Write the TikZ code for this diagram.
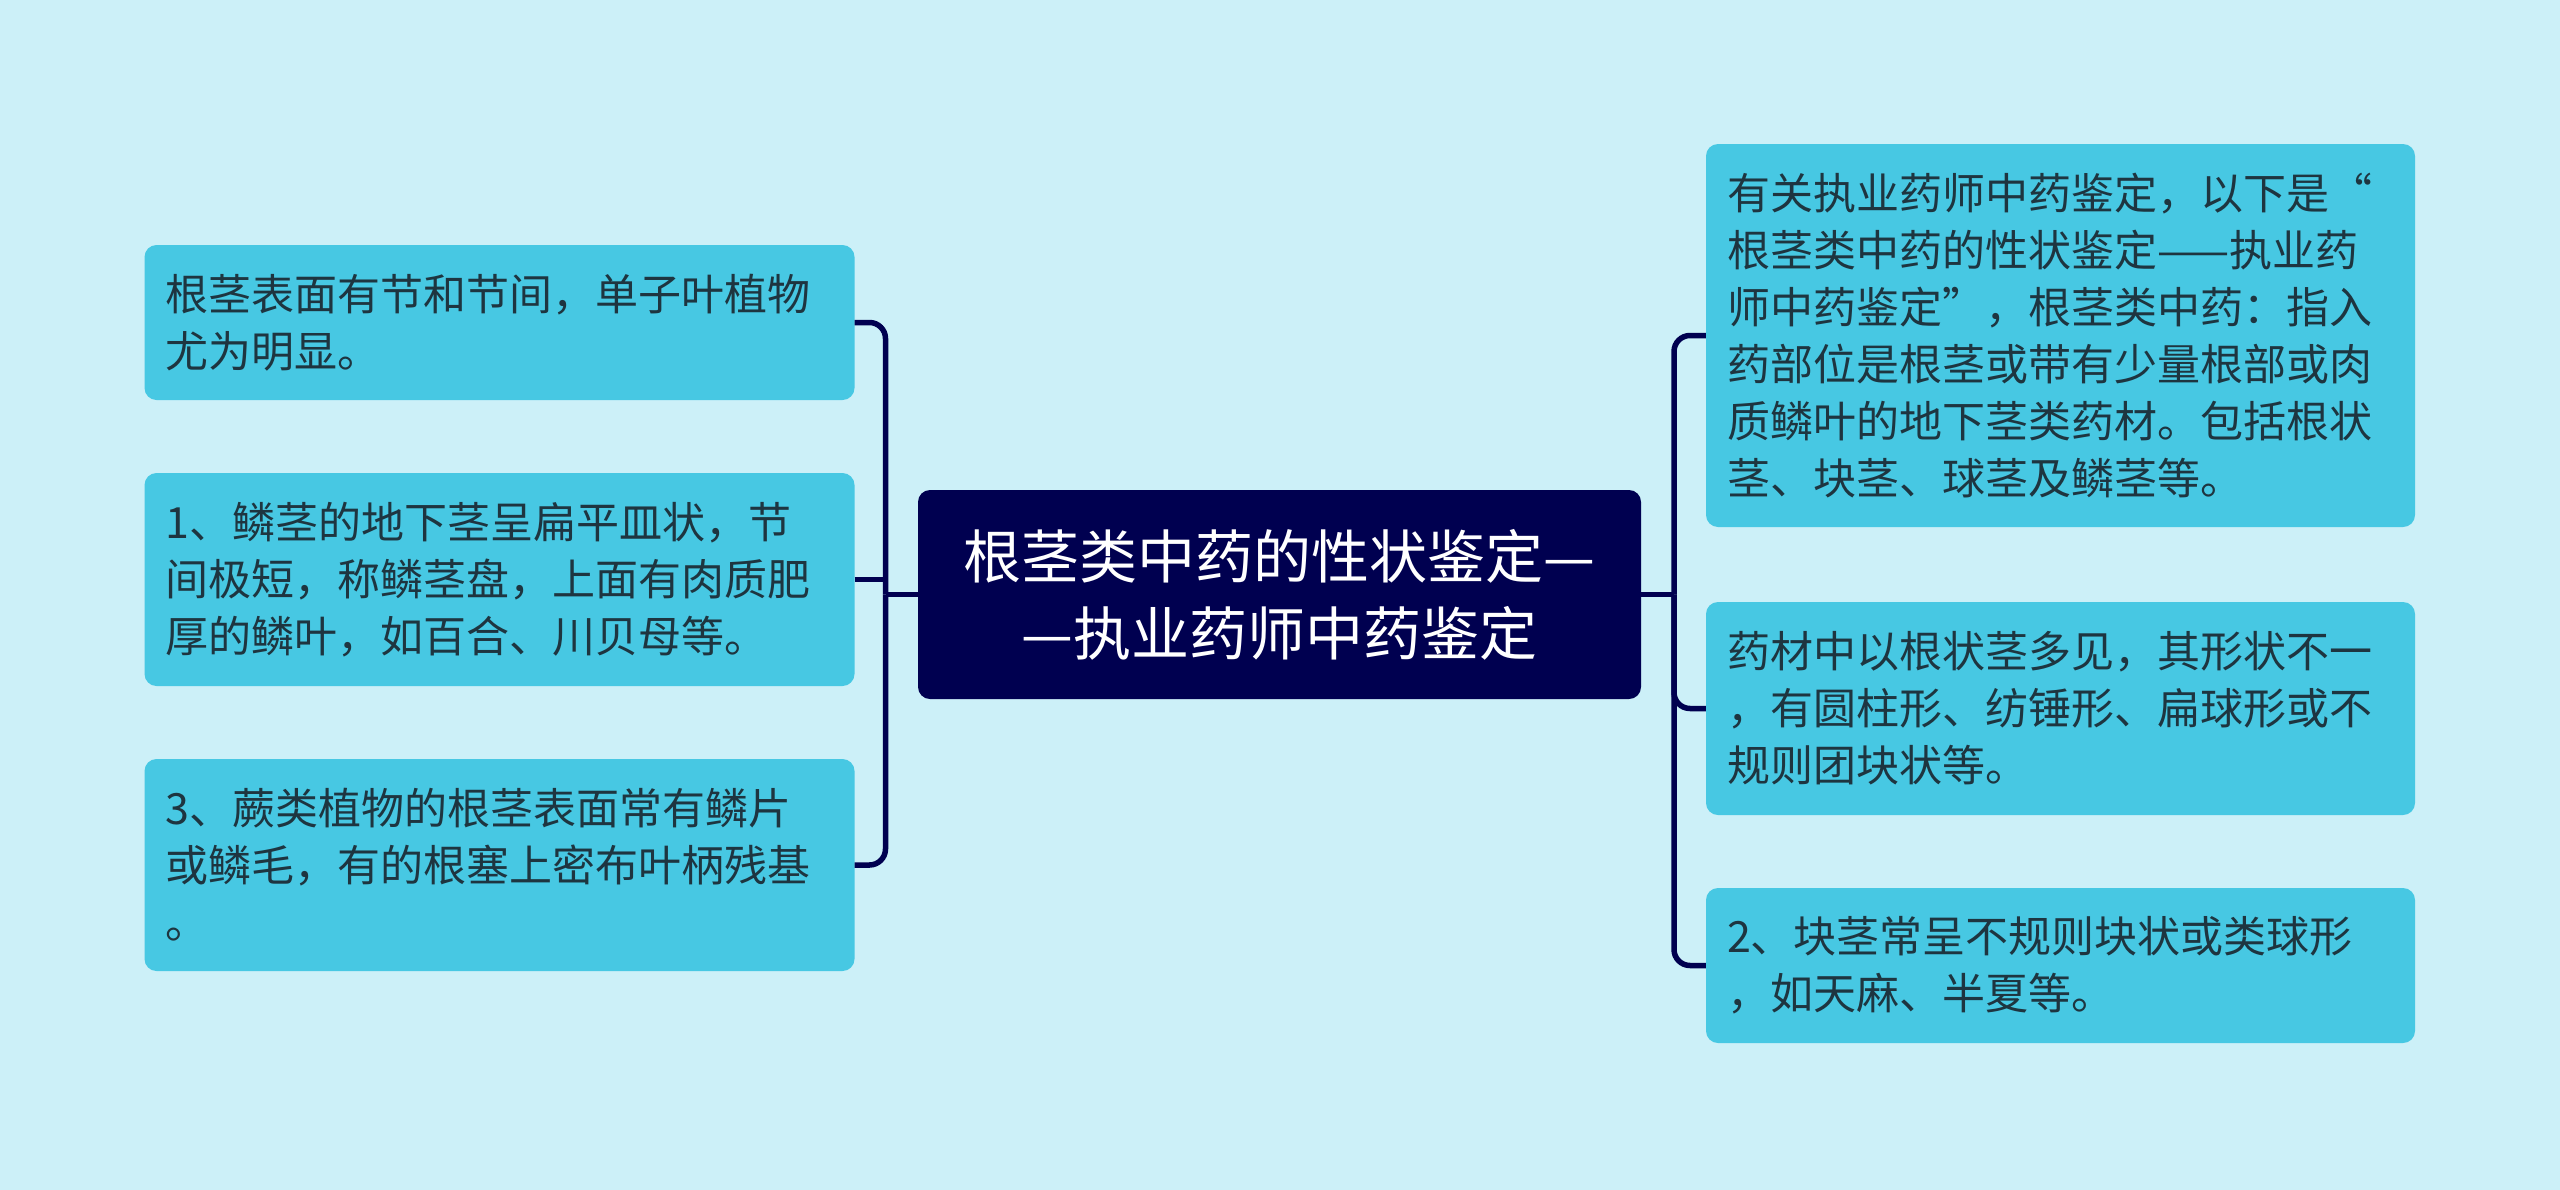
\documentclass[tikz,border=0pt]{standalone}
\usepackage{fontspec}
\setmainfont{Noto Sans CJK SC}
\definecolor{bgc}{HTML}{CCF0F8}
\definecolor{boxc}{HTML}{47C8E3}
\definecolor{navy}{HTML}{000050}
\definecolor{txtc}{HTML}{1E3540}
\tikzset{
  leaf/.style={fill=boxc, draw=none, rounded corners=12pt, inner xsep=21pt, inner ysep=0pt,
    text width=668pt, align=left, text=txtc, font=\fontsize{43}{57}\selectfont},
  rootbox/.style={fill=navy, draw=none, rounded corners=12pt, inner sep=0pt,
    minimum width=723pt, minimum height=209pt, align=center, text=white,
    font=\fontsize{58}{77}\selectfont},
  conn/.style={draw=navy, line width=5.5pt, rounded corners=16pt}
}
\begin{document}
\begin{tikzpicture}[x=1pt,y=-1pt]
\useasboundingbox (0,0) rectangle (2560,1189);
\fill[bgc] (-10,-10) rectangle (2570,1200);

\node[rootbox] (root) at (1279.5,594.5) {根茎类中药的性状鉴定—\\—执业药师中药鉴定};

\node[leaf, minimum height=155pt] (a) at (499.5,322.5) {根茎表面有节和节间，单子叶植物\\尤为明显。};
\node[leaf, minimum height=213pt] (b) at (499.5,579.5) {1、鳞茎的地下茎呈扁平皿状，节\\间极短，称鳞茎盘，上面有肉质肥\\厚的鳞叶，如百合、川贝母等。};
\node[leaf, minimum height=212pt] (c) at (499.5,865) {3、蕨类植物的根茎表面常有鳞片\\或鳞毛，有的根塞上密布叶柄残基\\。};

\node[leaf, text width=667pt, minimum height=383pt] (r1) at (2060.5,335.5) {有关执业药师中药鉴定，以下是“\\根茎类中药的性状鉴定——执业药\\师中药鉴定”，根茎类中药：指入\\药部位是根茎或带有少量根部或肉\\质鳞叶的地下茎类药材。包括根状\\茎、块茎、球茎及鳞茎等。};
\node[leaf, text width=667pt, minimum height=213pt] (r2) at (2060.5,708.5) {药材中以根状茎多见，其形状不一\\，有圆柱形、纺锤形、扁球形或不\\规则团块状等。};
\node[leaf, text width=667pt, minimum height=155pt] (r3) at (2060.5,965.5) {2、块茎常呈不规则块状或类球形\\，如天麻、半夏等。};

\coordinate (lj) at (885.5,594.5);
\coordinate (rj) at (1674,594.5);

\draw[conn] (root.west) -- (lj);
\draw[conn] (a.east) -| (lj);
\draw[conn] (b.east) -- (b.east -| lj);
\draw[conn] (c.east) -| (lj);

\draw[conn] (root.east) -- (rj);
\draw[conn] (r1.west) -| (rj);
\draw[conn] (r2.west) -| (rj);
\draw[conn] (r3.west) -| (rj);
\end{tikzpicture}
\end{document}
